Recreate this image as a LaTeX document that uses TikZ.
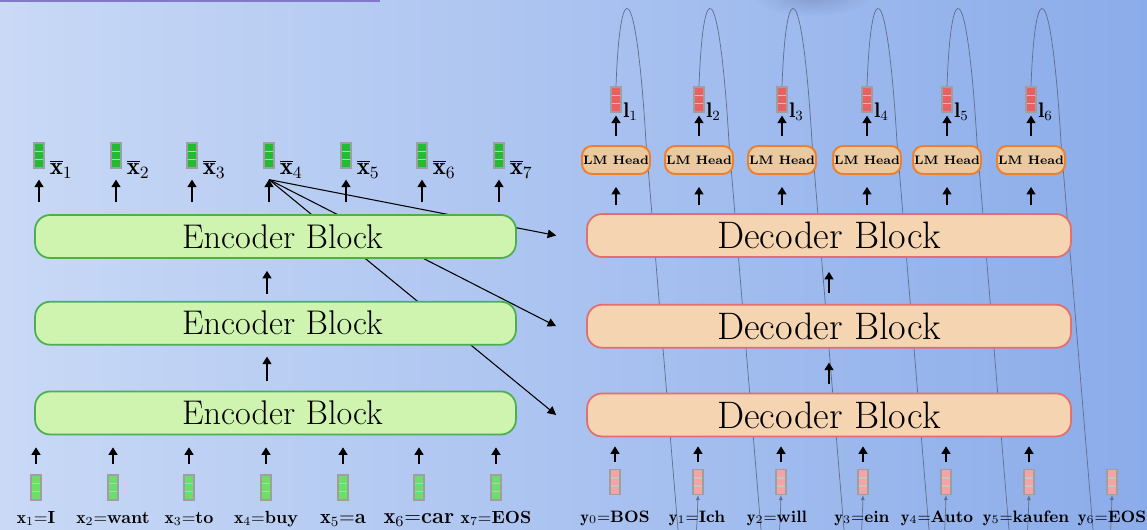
\RequirePackage{fix-cm}
\documentclass[tikz,border=0pt]{standalone}
\usepackage{fontspec}
\usepackage{tikz}
\usetikzlibrary{arrows.meta,positioning,calc,fadings}
\definecolor{bgleft}{RGB}{201,217,246}
\definecolor{bgright}{RGB}{139,172,234}
\definecolor{encfill}{RGB}{206,244,176}
\definecolor{encline}{RGB}{76,175,80}
\definecolor{decfill}{RGB}{245,212,178}
\definecolor{decline}{RGB}{226,110,110}
\definecolor{headfill}{RGB}{234,201,160}
\definecolor{headline}{RGB}{236,128,46}
\definecolor{embgreen}{RGB}{110,221,110}
\definecolor{hidgreen}{RGB}{34,187,51}
\definecolor{embpink}{RGB}{244,164,164}
\definecolor{logitred}{RGB}{232,96,96}
\definecolor{loopgray}{RGB}{95,110,140}
\definecolor{topline}{RGB}{130,120,200}
\definecolor{blobgray}{RGB}{70,85,130}
\tikzfading[name=fuzzyblob, inner color=transparent!0, outer color=transparent!100]
\pgfdeclarelayer{bg}
\pgfdeclarelayer{back}
\pgfsetlayers{bg,back,main}

\begin{document}
\begin{tikzpicture}[x=0.02cm, y=-0.02cm,
  block/.style={rounded corners=0.3cm, line width=1pt,
                minimum height=0.86cm, inner sep=0pt},
  encblock/.style={block, draw=encline, fill=encfill, minimum width=9.62cm,
                   font=\fontsize{19.5}{21}\selectfont},
  decblock/.style={block, draw=decline, fill=decfill, minimum width=9.68cm,
                   font=\fontsize{21.8}{23}\selectfont},
  lmhead/.style={draw=headline, fill=headfill, line width=1.1pt,
                 rounded corners=0.2cm, minimum width=1.36cm, minimum height=0.56cm,
                 inner sep=0pt, font=\fontsize{7}{8}\selectfont\bfseries},
  vecbox/.style={draw=gray!75, fill=#1, line width=0.7pt,
                 minimum width=0.2cm, minimum height=0.5cm, inner sep=0pt,
                 path picture={\draw[gray!45, line width=0.9pt]
                   ($(path picture bounding box.south west)!1/3!(path picture bounding box.north west)$)
                   -- ($(path picture bounding box.south east)!1/3!(path picture bounding box.north east)$)
                   ($(path picture bounding box.south west)!2/3!(path picture bounding box.north west)$)
                   -- ($(path picture bounding box.south east)!2/3!(path picture bounding box.north east)$);}},
  up/.style={-{Triangle[length=0.15cm, width=0.18cm]}, line width=0.8pt},
  hubline/.style={-{Triangle[length=0.17cm, width=0.17cm]}, line width=0.6pt},
  loopline/.style={draw=loopgray, line width=0.4pt, -{Latex[length=0.1cm, width=0.08cm]}},
  node distance=0.88cm]

  \useasboundingbox (0,0) rectangle (1147,530);

  \begin{pgfonlayer}{bg}
    \shade[left color=bgleft, right color=bgright] (0,0) rectangle (1147,530);
    \fill[blobgray, path fading=fuzzyblob, opacity=0.3]
      (812,-6) ellipse [x radius=1.2cm, y radius=0.45cm];
    \draw[topline, line width=1.2pt] (0,1) -- (380,1);
  \end{pgfonlayer}

  % Encoder stack
  \node[encblock] (enc1) at (275.5,236.5) {\hspace{0.28cm}Encoder Block};
  \node[encblock, below=0.84cm of enc1] (enc2) {\hspace{0.28cm}Encoder Block};
  \node[encblock, below=0.9cm of enc2] (enc3) {\hspace{0.28cm}Encoder Block};

  % Decoder stack
  \node[decblock] (dec1) at (829,235.5) {Decoder Block};
  \node[decblock, below=0.92cm of dec1] (dec2) {Decoder Block};
  \node[decblock, below=0.88cm of dec2] (dec3) {Decoder Block};

  \draw[up, shorten <=0.14cm, shorten >=0.24cm]
    ([xshift=-0.17cm]enc2.north) -- ([xshift=-0.17cm]enc1.south);
  \draw[up, shorten <=0.2cm, shorten >=0.22cm]
    ([xshift=-0.17cm]enc3.north) -- ([xshift=-0.17cm]enc2.south);
  \draw[up, shorten <=0.22cm, shorten >=0.28cm] (dec2.north) -- (dec1.south);
  \draw[up, shorten <=0.18cm, shorten >=0.28cm] (dec3.north) -- (dec2.south);

  % Encoder inputs / outputs
  \foreach \i/\x/\w/\s in {1/36/I/10, 2/113/want/10, 3/189/to/10, 4/266/buy/10,
                           5/343/a/11.5, 6/419/car/12.5, 7/496/EOS/10} {
    \node[vecbox=embgreen] (xin\i) at (\x,487.5) {};
    \node[anchor=base, inner sep=0pt, font=\fontsize{\s}{\s}\selectfont] (xw\i) at (\x,523)
      {$\mathbf{x}_{\i}{=}$\textbf{\w}};
    \node[vecbox=hidgreen] (xo\i) at (\x+3,155.5) {};
    \node[anchor=base west, inner sep=0pt, font=\fontsize{14}{15}\selectfont] (xb\i)
      at ([xshift=0.1cm, yshift=-0.12cm]xo\i.south east) {$\overline{\mathbf{x}}_{\i}$};
    \draw[up, shorten <=0.2cm, shorten >=0.24cm] (xin\i.north) -- (xin\i.north |- enc3.south);
    \draw[up, shorten <=0.24cm, shorten >=0.22cm] (xo\i.south |- enc1.north) -- (xo\i.south);
  }
  \coordinate (hub) at ([yshift=-0.22cm]xo4.south);

  % Decoder inputs
  \foreach \i/\x/\t/\w in {0/615/615/BOS, 1/698/697/Ich, 2/781/777/will, 3/863/862/ein,
                           4/946/937/Auto, 5/1029/1026/kaufen, 6/1112/1112/EOS} {
    \node[vecbox=embpink] (y\i) at (\x,482) {};
    \node[anchor=base, inner sep=0pt, font=\fontsize{9.4}{10}\selectfont] (yw\i) at (\t,522)
      {$\mathbf{y}_{\i}{=}$\textbf{\w}};
  }
  \foreach \i in {0,...,5}
    \draw[up, shorten <=0.14cm, shorten >=0.18cm] (y\i.north) -- (y\i.north |- dec3.south);

  % LM heads and logits
  \foreach \i/\x in {1/616, 2/699, 3/782, 4/867, 5/947, 6/1031} {
    \node[lmhead] (head\i) at (\x,160) {LM Head};
    \node[vecbox=logitred] (l\i) at (\x,99.5) {};
    \node[anchor=base west, inner sep=0pt, font=\fontsize{12}{13}\selectfont] (ll\i)
      at ([xshift=0.03cm, yshift=-0.1cm]l\i.south east) {$\mathbf{l}_{\i}$};
    \draw[up, shorten <=0.16cm, shorten >=0.24cm] (head\i.south |- dec1.north) -- (head\i.south);
    \draw[up, shorten <=0.18cm, shorten >=0.06cm] (head\i.north) -- (l\i.south);
  }

  % lines that run behind the blocks
  \begin{pgfonlayer}{back}
    \clip (0,0) rectangle (1147,530);
    \foreach \i in {1,...,6}
      \draw[loopline] (l\i.north)
        .. controls ($(l\i.north)+(4,-112)$) and ($(l\i.north)+(20,-112)$) .. ($(l\i.north)+(30,56)$)
        -- ($(l\i.north)+(65,480)$)
        .. controls ($(l\i.north)+(69,520)$) and ($(y\i.south)+(-3,100)$) .. (y\i.south);
    \foreach \k in {1,2,3}
      \draw[hubline] (hub) -- ([xshift=-0.6cm]dec\k.west);
  \end{pgfonlayer}
\end{tikzpicture}
\end{document}
